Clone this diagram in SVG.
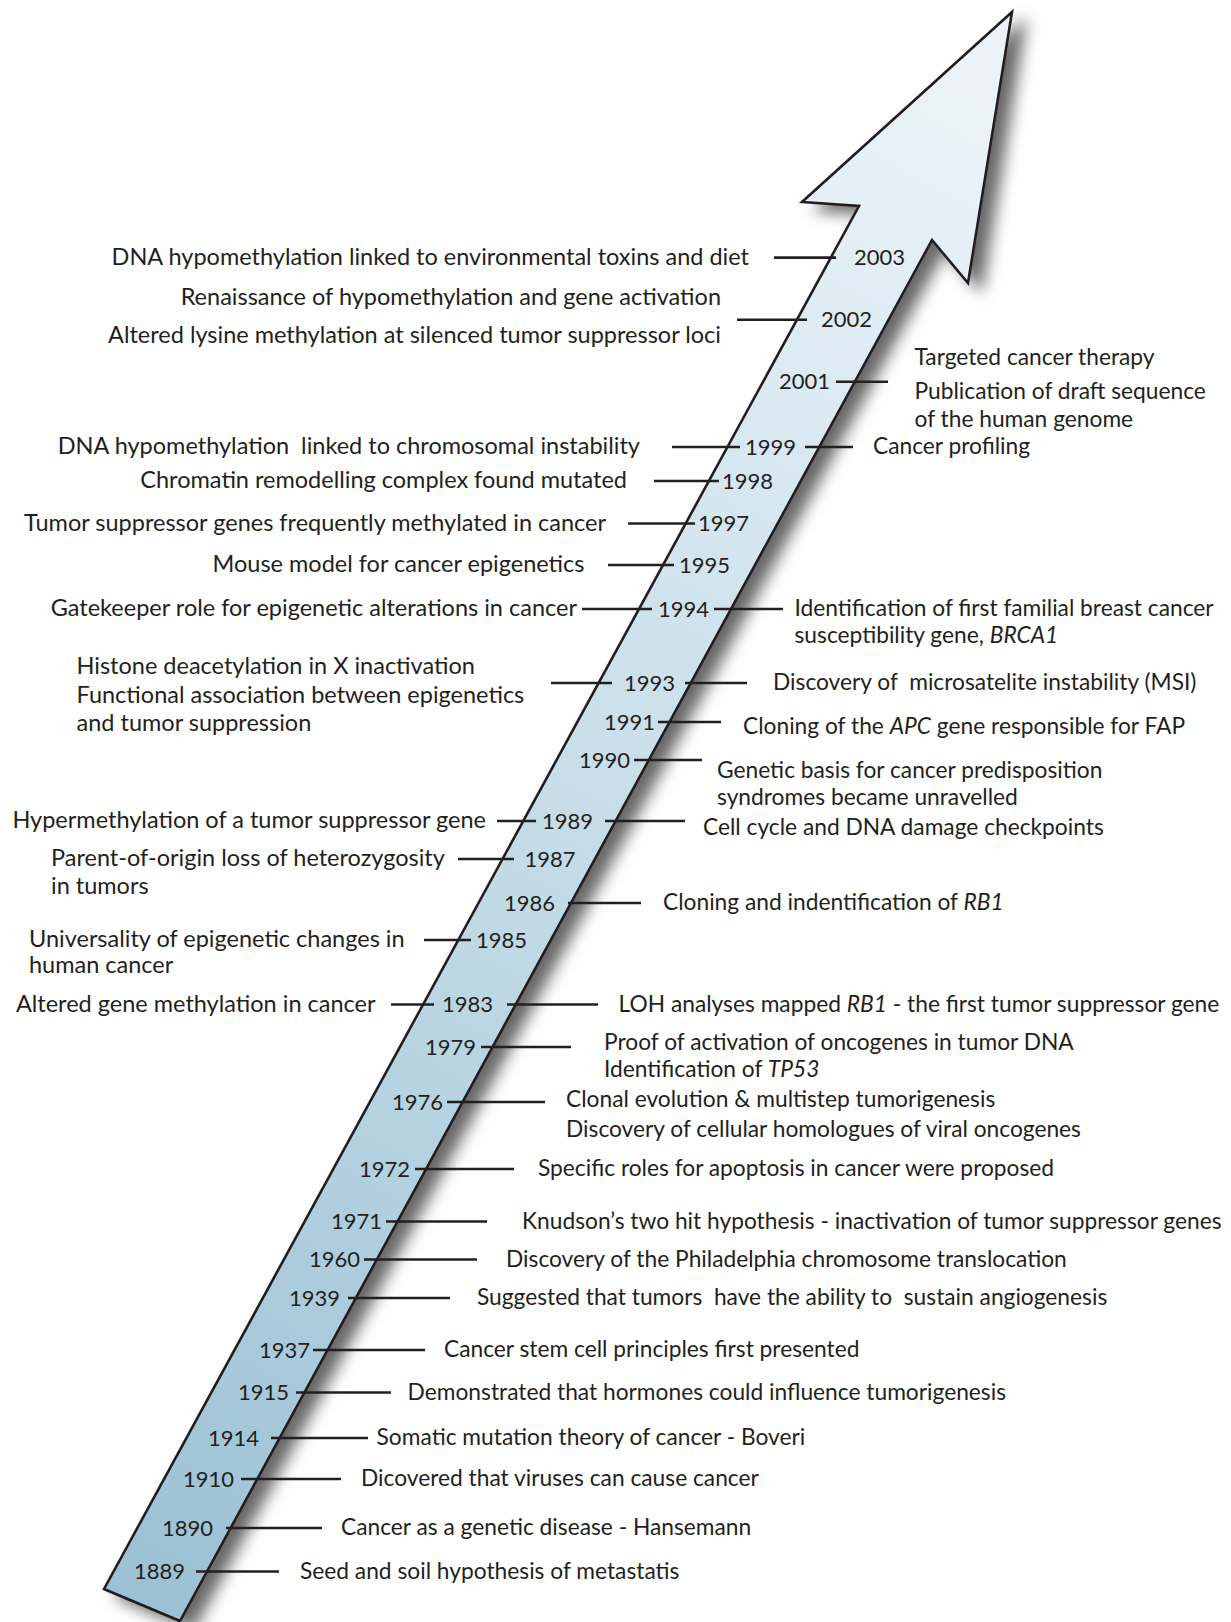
<svg xmlns="http://www.w3.org/2000/svg" width="1231" height="1622" viewBox="0 0 1231 1622">
  <style>
    text { font-family: Lato, "Open Sans", "Liberation Sans", sans-serif; font-size: 22.75px; fill: #231f20; }
    .l { font-size: 23.5px; }
    .end { text-anchor: end; }
    .yr { font-size: 22px; }
    .it { font-style: italic; }
    .pre { white-space: pre; }
    .tick { stroke: #231f20; stroke-width: 2.6; fill: none; }
  </style>
  <defs>
    <linearGradient id="shaftFill" gradientUnits="userSpaceOnUse" x1="142" y1="1605" x2="985" y2="100">
      <stop offset="0" stop-color="#9bc1d4"/>
      <stop offset="0.5" stop-color="#c4dce7"/>
      <stop offset="1" stop-color="#ebf3f8"/>
    </linearGradient>
    <filter id="dropShadow" x="-10%" y="-10%" width="130%" height="130%">
      <feGaussianBlur in="SourceAlpha" stdDeviation="8"/>
      <feOffset dx="13" dy="8" result="blur"/>
      <feComponentTransfer><feFuncA type="linear" slope="0.6"/></feComponentTransfer>
      <feMerge><feMergeNode/><feMergeNode in="SourceGraphic"/></feMerge>
    </filter>
  </defs>

  <rect width="1231" height="1622" fill="#ffffff"/>

  <!-- timeline arrow -->
  <g id="arrow">
    <polygon points="1012,12 968,283 932,240 180,1621 104,1589 859,206 802,202" fill="url(#shaftFill)" stroke="#231f20" stroke-width="2.6" stroke-linejoin="miter" filter="url(#dropShadow)"/>
  </g>

  <!-- tick marks linking events to the arrow -->
  <g id="ticks" class="tick">
    <line x1="774" y1="257.6" x2="836" y2="257.6"/>
    <line x1="737" y1="319.7" x2="807" y2="319.7"/>
    <line x1="836" y1="381.7" x2="888" y2="381.7"/>
    <line x1="672" y1="447" x2="740" y2="447"/>
    <line x1="805" y1="447" x2="853" y2="447"/>
    <line x1="654" y1="481" x2="719" y2="481"/>
    <line x1="628" y1="523.5" x2="695" y2="523.5"/>
    <line x1="608" y1="565" x2="674" y2="565"/>
    <line x1="582" y1="609" x2="652" y2="609"/>
    <line x1="714" y1="609" x2="783" y2="609"/>
    <line x1="551" y1="683" x2="612" y2="683"/>
    <line x1="685" y1="683" x2="747" y2="683"/>
    <line x1="658" y1="722" x2="721" y2="722"/>
    <line x1="634" y1="760" x2="702" y2="760"/>
    <line x1="497" y1="821" x2="536" y2="821"/>
    <line x1="605" y1="821" x2="685" y2="821"/>
    <line x1="458" y1="859" x2="514" y2="859"/>
    <line x1="568" y1="903" x2="641" y2="903"/>
    <line x1="424" y1="940" x2="471" y2="940"/>
    <line x1="391" y1="1004.5" x2="434" y2="1004.5"/>
    <line x1="507" y1="1004.5" x2="598" y2="1004.5"/>
    <line x1="481" y1="1047" x2="571" y2="1047"/>
    <line x1="447" y1="1102" x2="545" y2="1102"/>
    <line x1="415" y1="1169" x2="514" y2="1169"/>
    <line x1="386" y1="1221.5" x2="487" y2="1221.5"/>
    <line x1="364" y1="1259.5" x2="477" y2="1259.5"/>
    <line x1="348" y1="1298" x2="450" y2="1298"/>
    <line x1="313" y1="1350" x2="425" y2="1350"/>
    <line x1="296" y1="1392.5" x2="391" y2="1392.5"/>
    <line x1="271" y1="1438" x2="368" y2="1438"/>
    <line x1="241" y1="1479" x2="341" y2="1479"/>
    <line x1="226" y1="1528" x2="322" y2="1528"/>
    <line x1="196" y1="1571.5" x2="279" y2="1571.5"/>
  </g>

  <g id="e2003">
    <text class="l end" x="749" y="265">DNA hypomethylation linked to environmental toxins and diet</text>
    <text class="yr" x="854" y="265">2003</text>
  </g>
  <g id="e2002">
    <text class="l end" x="721" y="305">Renaissance of hypomethylation and gene activation</text>
    <text class="l end" x="721" y="343">Altered lysine methylation at silenced tumor suppressor loci</text>
    <text class="yr" x="821" y="327">2002</text>
  </g>
  <g id="e2001">
    <text class="yr" x="779" y="389">2001</text>
    <text x="914.5" y="365">Targeted cancer therapy</text>
    <text x="914.5" y="399">Publication of draft sequence</text>
    <text x="914.5" y="427">of the human genome</text>
  </g>
  <g id="e1999">
    <text class="l end pre" x="640" y="454">DNA hypomethylation  linked to chromosomal instability</text>
    <text class="yr" x="745" y="454.5">1999</text>
    <text x="873" y="454">Cancer profiling</text>
  </g>
  <g id="e1998">
    <text class="l end" x="627" y="488">Chromatin remodelling complex found mutated</text>
    <text class="yr" x="722" y="488.5">1998</text>
  </g>
  <g id="e1997">
    <text class="l end" x="606" y="530.5">Tumor suppressor genes frequently methylated in cancer</text>
    <text class="yr" x="698" y="531">1997</text>
  </g>
  <g id="e1995">
    <text class="l end" x="584.5" y="572">Mouse model for cancer epigenetics</text>
    <text class="yr" x="679" y="572.5">1995</text>
  </g>
  <g id="e1994">
    <text class="l end" x="577" y="616">Gatekeeper role for epigenetic alterations in cancer</text>
    <text class="yr" x="658" y="616.5">1994</text>
    <text x="794.5" y="616">Identification of first familial breast cancer</text>
    <text x="794.5" y="643">susceptibility gene, <tspan class="it">BRCA1</tspan></text>
  </g>
  <g id="e1993">
    <text class="l" x="76.5" y="674">Histone deacetylation in X inactivation</text>
    <text class="l" x="76.5" y="703">Functional association between epigenetics</text>
    <text class="l" x="76.5" y="731">and tumor suppression</text>
    <text class="yr" x="624" y="690.5">1993</text>
    <text class="pre" x="773" y="690">Discovery of  microsatelite instability (MSI)</text>
  </g>
  <g id="e1991">
    <text class="yr" x="604" y="729.5">1991</text>
    <text x="743" y="734">Cloning of the <tspan class="it">APC</tspan> gene responsible for FAP</text>
  </g>
  <g id="e1990">
    <text class="yr" x="579" y="767.5">1990</text>
    <text x="717" y="778">Genetic basis for cancer predisposition</text>
    <text x="717" y="805">syndromes became unravelled</text>
  </g>
  <g id="e1989">
    <text class="l end" x="486" y="828">Hypermethylation of a tumor suppressor gene</text>
    <text class="yr" x="542" y="828.5">1989</text>
    <text x="703" y="835">Cell cycle and DNA damage checkpoints</text>
  </g>
  <g id="e1987">
    <text class="l" x="51" y="866">Parent-of-origin loss of heterozygosity</text>
    <text class="l" x="51" y="894">in tumors</text>
    <text class="yr" x="524.5" y="866.5">1987</text>
  </g>
  <g id="e1986">
    <text class="yr" x="504" y="910.5">1986</text>
    <text x="663" y="910">Cloning and indentification of <tspan class="it">RB1</tspan></text>
  </g>
  <g id="e1985">
    <text class="l" x="29" y="947">Universality of epigenetic changes in</text>
    <text class="l" x="29" y="973">human cancer</text>
    <text class="yr" x="476" y="947.5">1985</text>
  </g>
  <g id="e1983">
    <text class="l end" x="375.5" y="1011.5">Altered gene methylation in cancer</text>
    <text class="yr" x="442" y="1012">1983</text>
    <text x="618.6" y="1011.5">LOH analyses mapped <tspan class="it">RB1</tspan> - the first tumor suppressor gene</text>
  </g>
  <g id="e1979">
    <text class="yr" x="425" y="1054.5">1979</text>
    <text x="604" y="1049.5">Proof of activation of oncogenes in tumor DNA</text>
    <text x="604" y="1077">Identification of <tspan class="it">TP53</tspan></text>
  </g>
  <g id="e1976">
    <text class="yr" x="392" y="1109.5">1976</text>
    <text x="566" y="1107">Clonal evolution &amp; multistep tumorigenesis</text>
    <text x="566" y="1137">Discovery of cellular homologues of viral oncogenes</text>
  </g>
  <g id="e1972">
    <text class="yr" x="359" y="1176.5">1972</text>
    <text x="538" y="1176">Specific roles for apoptosis in cancer were proposed</text>
  </g>
  <g id="e1971">
    <text class="yr" x="331" y="1229">1971</text>
    <text x="522" y="1229">Knudson’s two hit hypothesis - inactivation of tumor suppressor genes</text>
  </g>
  <g id="e1960">
    <text class="yr" x="309" y="1267">1960</text>
    <text x="506" y="1267">Discovery of the Philadelphia chromosome translocation</text>
  </g>
  <g id="e1939">
    <text class="yr" x="289" y="1305.5">1939</text>
    <text class="pre" x="477" y="1305">Suggested that tumors  have the ability to  sustain angiogenesis</text>
  </g>
  <g id="e1937">
    <text class="yr" x="259" y="1357.5">1937</text>
    <text x="444" y="1357">Cancer stem cell principles first presented</text>
  </g>
  <g id="e1915">
    <text class="yr" x="238" y="1400">1915</text>
    <text x="407.6" y="1399.5">Demonstrated that hormones could influence tumorigenesis</text>
  </g>
  <g id="e1914">
    <text class="yr" x="208" y="1445.5">1914</text>
    <text x="376.6" y="1445">Somatic mutation theory of cancer - Boveri</text>
  </g>
  <g id="e1910">
    <text class="yr" x="183" y="1486.5">1910</text>
    <text x="361" y="1486">Dicovered that viruses can cause cancer</text>
  </g>
  <g id="e1890">
    <text class="yr" x="162" y="1535.5">1890</text>
    <text x="341" y="1535">Cancer as a genetic disease - Hansemann</text>
  </g>
  <g id="e1889">
    <text class="yr" x="134" y="1579">1889</text>
    <text x="300" y="1579">Seed and soil hypothesis of metastatis</text>
  </g>
</svg>
